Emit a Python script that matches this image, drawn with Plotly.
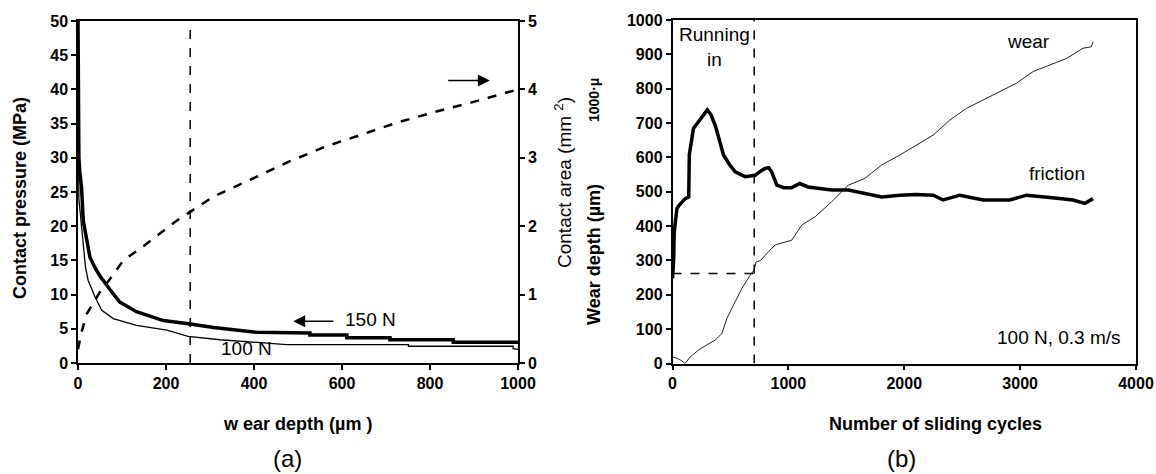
import plotly.graph_objects as go

W, H = 1156, 474

# ---------------- (a) contact pressure / contact area vs wear depth ----------------
depth_150 = [0, 0.5, 2, 4, 8, 12, 20, 27, 38, 50, 73, 95, 133, 194, 255, 308, 406, 482,
             527, 527, 611, 611, 709, 709, 853, 853, 1000]
pressure_150 = [50, 31, 30, 28, 25.7, 20.8, 18, 15.5, 14, 12.7, 10.7, 8.9, 7.5, 6.2, 5.7, 5.2, 4.5, 4.4,
                4.4, 4.1, 4.1, 3.7, 3.7, 3.4, 3.4, 3.05, 3.05]

depth_100 = [0, 0.5, 2, 5, 8, 12, 17, 23, 39, 54, 80, 133, 202, 250, 323, 474,
             751, 751, 989, 989, 1000]
pressure_100 = [50, 30, 24, 22, 20, 16.5, 14, 12.1, 9.6, 7.7, 6.5, 5.5, 4.8, 3.9, 3.4, 2.7,
                2.7, 2.45, 2.45, 2.1, 2.0]

depth_area = [0, 8, 20, 50, 73, 103, 145, 224, 255, 307, 395, 478, 561, 641, 728, 811, 895, 1000]
contact_area = [0.2, 0.45, 0.72, 1.04, 1.23, 1.5, 1.69, 2.08, 2.21, 2.43, 2.69, 2.94, 3.16, 3.33,
                3.52, 3.67, 3.81, 4.0]

marker_depth = 255

# ---------------- (b) friction and wear vs sliding cycles ----------------
cycles_friction = [0, 10, 15, 25, 38, 55, 110, 140, 145, 160, 181, 224, 270, 300, 330, 368, 405, 440,
                   490, 541, 627, 713, 760, 799, 830, 856, 900, 960, 1029, 1098, 1170, 1250, 1374,
                   1518, 1661, 1805, 1962, 2100, 2250, 2336, 2480, 2681, 2911, 3055, 3256, 3457,
                   3558, 3629]
friction_1000mu = [248, 300, 383, 420, 451, 460, 480, 485, 607, 640, 684, 704, 725, 738, 725, 694, 650,
                   607, 580, 558, 544, 548, 560, 568, 570, 558, 519, 512, 512, 524, 514, 510, 505,
                   505, 495, 485, 490, 492, 490, 476, 490, 476, 476, 490, 483, 476, 466, 480]

cycles_wear = [0, 40, 80, 109, 152, 224, 300, 368, 426, 469, 541, 598, 670, 705, 720, 760, 799, 885,
               1029, 1116, 1230, 1374, 1517, 1661, 1805, 1962, 2250, 2394, 2538, 2681, 2825, 2969,
               3112, 3256, 3400, 3543, 3615, 3630]
wear_depth = [19, 15, 8, 0, 19, 39, 55, 68, 87, 131, 180, 218, 257, 272, 295, 300, 315, 345,
              359, 403, 427, 471, 519, 539, 578, 607, 665, 709, 743, 767, 791, 816,
              850, 869, 888, 918, 922, 937]

running_in_end = 705
running_in_wear = 262

# ---------------- figure ----------------
FONT = "Liberation Sans, Arial, sans-serif"
tickfont = dict(family=FONT, size=16, color="black", weight="bold")

fig = go.Figure()
fig.add_trace(go.Scatter(x=depth_150, y=pressure_150, xaxis="x", yaxis="y", mode="lines",
                         line=dict(color="black", width=3.5), showlegend=False))
fig.add_trace(go.Scatter(x=depth_100, y=pressure_100, xaxis="x", yaxis="y", mode="lines",
                         line=dict(color="black", width=1.3), showlegend=False))
fig.add_trace(go.Scatter(x=depth_area, y=contact_area, xaxis="x", yaxis="y2", mode="lines",
                         line=dict(color="black", width=2.5, dash="dash"), showlegend=False))
fig.add_trace(go.Scatter(x=cycles_friction, y=friction_1000mu, xaxis="x2", yaxis="y3", mode="lines",
                         line=dict(color="black", width=3.5), showlegend=False))
fig.add_trace(go.Scatter(x=cycles_wear, y=wear_depth, xaxis="x2", yaxis="y3", mode="lines",
                         line=dict(color="#222222", width=1), showlegend=False))

axis_common = dict(showline=True, linecolor="black", linewidth=1.5, ticks="outside", ticklen=5,
                   tickcolor="black", tickwidth=1.5, showgrid=False, zeroline=False, tickfont=tickfont,
                   automargin=False)

fig.update_layout(
    width=W, height=H, paper_bgcolor="white", plot_bgcolor="white",
    margin=dict(l=0, r=0, t=0, b=0, autoexpand=False),
    xaxis=dict(domain=[78 / W, 518 / W], range=[0, 1000], tickvals=[0, 200, 400, 600, 800, 1000],
               mirror=True, anchor="y", **axis_common),
    yaxis=dict(domain=[1 - 363 / H, 1 - 21 / H], range=[0, 50], dtick=5, anchor="x", **axis_common),
    yaxis2=dict(overlaying="y", side="right", range=[0, 5], dtick=1, anchor="x", **axis_common),
    xaxis2=dict(domain=[672.5 / W, 1136 / W], range=[0, 4000], dtick=1000, mirror=True,
                anchor="y3", **axis_common),
    yaxis3=dict(domain=[1 - 363.5 / H, 1 - 20 / H], range=[0, 1000], dtick=100, mirror=True,
                anchor="x2", **axis_common),
)

dash_line = dict(color="black", width=1.5, dash="dash")
fig.add_shape(type="line", xref="x", yref="y", x0=marker_depth, x1=marker_depth, y0=0, y1=50, line=dash_line)
fig.add_shape(type="line", xref="x2", yref="y3", x0=running_in_end, x1=running_in_end, y0=0, y1=1000,
              line=dash_line)
fig.add_shape(type="line", xref="x2", yref="y3", x0=0, x1=running_in_end, y0=running_in_wear,
              y1=running_in_wear, line=dash_line)

ann_font = dict(family=FONT, size=19, color="black")
bold_font = dict(family=FONT, size=18, color="black", weight="bold")

# arrows
fig.add_annotation(x=489, y=6.1, ax=584, ay=6.1, xref="x", yref="y", axref="x", ayref="y",
                   text="", showarrow=True, arrowhead=2, arrowsize=1.6, arrowwidth=1.5, arrowcolor="black")
fig.add_annotation(x=936, y=41.3, ax=838, ay=41.3, xref="x", yref="y", axref="x", ayref="y",
                   text="", showarrow=True, arrowhead=2, arrowsize=1.6, arrowwidth=1.5, arrowcolor="black")

fig.add_annotation(x=664, y=6.4, xref="x", yref="y", text="150 N", showarrow=False, font=ann_font)
fig.add_annotation(x=384, y=2.1, xref="x", yref="y", text="100 N", showarrow=False, font=ann_font)

fig.add_annotation(x=365, y=920, xref="x2", yref="y3", text="Running<br>in", showarrow=False,
                   font=ann_font)
fig.add_annotation(x=3075, y=937, xref="x2", yref="y3", text="wear", showarrow=False, font=ann_font)
fig.add_annotation(x=3320, y=553, xref="x2", yref="y3", text="friction", showarrow=False, font=ann_font)
fig.add_annotation(x=3337, y=77, xref="x2", yref="y3", text="100 N, 0.3 m/s", showarrow=False,
                   font=ann_font)

def paper(px, py):
    return px / W, 1 - py / H

# axis titles
for txt, (px, py), angle, font in [
    ("Contact pressure (MPa)", (20, 198), -90, bold_font),
    ("Contact area (mm <sup>2</sup>)", (563, 183), -90, ann_font),
    ("1000·μ", (594, 100), -90, dict(family=FONT, size=14, color="black", weight="bold")),
    ("Wear depth (µm)", (594, 255), -90, bold_font),
    ("w ear depth (µm )", (297, 424), 0, bold_font),
    ("Number of sliding cycles", (935, 424), 0, bold_font),
    ("(a)", (287, 458), 0, dict(family=FONT, size=24, color="black")),
    ("(b)", (901, 458), 0, dict(family=FONT, size=24, color="black")),
]:
    x, y = paper(px, py)
    fig.add_annotation(x=x, y=y, xref="paper", yref="paper", text=txt, showarrow=False,
                       textangle=angle, font=font, xanchor="center", yanchor="middle")

fig.write_html("out.html", config={"displayModeBar": False},
               post_script="document.body.style.margin='0px';document.body.style.overflow='hidden';")
